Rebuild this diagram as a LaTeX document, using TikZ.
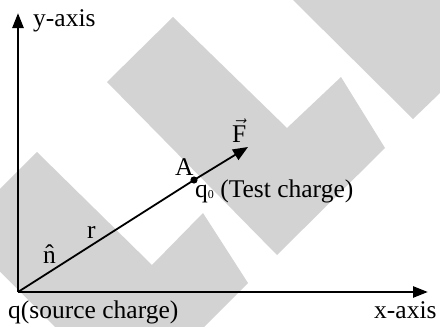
\documentclass[tikz,border=0pt]{standalone}
\usepackage{fontspec}
\setmainfont{Liberation Serif}
\usetikzlibrary{arrows.meta}
\definecolor{filigrana}{RGB}{211,211,211}
\tikzset{
  asse/.style={line width=2.6pt, -{Triangle[length=15pt,width=11pt]}},
  raggio/.style={line width=1.8pt},
  forza/.style={line width=1.8pt, -{Triangle[length=15pt,width=12pt]}},
  etichetta/.style={font=\fontsize{25.5}{30}\selectfont, inner sep=0pt, anchor=base west},
}
\begin{document}
\begin{tikzpicture}[x=1pt,y=-1pt]
    \useasboundingbox (0,0) rectangle (440,327);

        % 1. Sfondo grigio (filigrana)
        \begin{scope}
            \clip (0,0) rectangle (440,327);
            \fill[filigrana] (107,82) -- (173,17) -- (287,128) -- (341,77) -- (385,148) -- (277,255) -- cycle;
            \fill[filigrana] (-41.5,230) -- (37,152) -- (152,265) -- (203,213) -- (248,283) -- (129.5,401.5) -- cycle;
            \fill[filigrana] (293,0) -- (413,119) -- (440,93) -- (440,0) -- cycle;
        \end{scope}

        % 2. Punti principali: origine, punte degli assi, carica di prova
        \coordinate (O) at (18,292);
        \coordinate (ytip) at (18,13);
        \coordinate (xtip) at (428,292);
        \coordinate (A) at (194,180);
        \coordinate (Ftip) at (248,147);

        % 3. Assi cartesiani
        \draw[asse] (O) -- (ytip);
        \draw[asse] (O) -- (xtip);

        % 4. Raggio dalla sorgente alla carica di prova e forza
        \draw[raggio] (O) -- (A);
        \draw[forza] (A) -- (Ftip);
        \fill (A) circle (3.6);

        % 5. Etichette
        \node[etichetta] (yasse) at (33,26) {y-axis};
        \node[etichetta] (xasse) at (374,318) {x-axis};
        \node[etichetta] (sorgente) at (8,318) {q(source charge)};
        \node[etichetta] (puntoA) at (175,175) {A};
        \node[etichetta] (prova) at (195,197) {q\raisebox{-1pt}{\fontsize{12}{12}\selectfont 0} (Test charge)};
        \node[etichetta] (r) at (87,238) {r};
        \node[etichetta] (versore) at (43,263) {\^{n}};
        \node[etichetta] (forzaF) at (232,142) {$\vec{\mbox{F}}$};

    \end{tikzpicture}
\end{document}
